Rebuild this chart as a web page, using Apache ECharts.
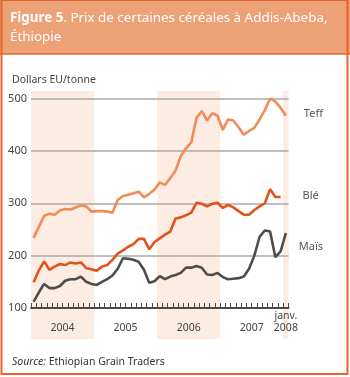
<!DOCTYPE html>
<html>
<head>
  <meta charset="UTF-8">
  <title>Prix de certaines céréales à Addis-Abeba</title>
  <script src="https://cdn.jsdelivr.net/npm/echarts@6/dist/echarts.min.js"></script>
  <style>
    html, body { margin: 0; padding: 0; background: #fff; }
  </style>
</head>
<body>
  <div id="main" style="width: 350px; height: 377px;"></div>

  <script>
    // mois de janv. 2004 à janv. 2008
    const months = [];
    for (let y = 2004; y <= 2008; ++y) {
      for (let m = 1; m <= 12; ++m) {
        if (y === 2008 && m > 1) break;
        months.push(y + '-' + (m < 10 ? '0' + m : m));
      }
    }

    const teff = [
      234, 255, 276, 280, 278, 286, 289, 288, 292, 296, 294, 284,
      285, 285, 284, 282, 306, 314, 316, 319, 322, 311, 318, 326,
      340, 335, 348, 362, 390, 405, 416, 463, 476, 458, 472, 467,
      440, 460, 458, 445, 431, 438, 444, 460, 478, 500, 494, 482,
      467
    ];
    const ble = [
      149, 172, 189, 173, 179, 184, 182, 187, 185, 187, 176, 174,
      171, 179, 182, 192, 204, 210, 217, 222, 232, 232, 212, 226,
      233, 240, 246, 271, 273, 277, 282, 301, 299, 294, 299, 301,
      291, 297, 292, 285, 278, 278, 287, 294, 300, 327, 312, 312
    ];
    const mais = [
      112, 130, 146, 138, 138, 142, 152, 155, 155, 160, 150, 146,
      144, 150, 155, 162, 175, 195, 194, 192, 188, 173, 148, 151,
      161, 155, 160, 163, 167, 177, 177, 180, 177, 164, 163, 167,
      159, 155, 156, 157, 160, 175, 200, 236, 248, 246, 197, 208,
      243
    ];

    // libellés des années (position en mois depuis janv. 2004)
    const yearLabels = { '6': '2004', '18': '2005', '30': '2006', '42': '2007', '48.5': 'janv.\n2008' };
    // bandes ombrées : 2004, 2006, janv. 2008
    const shadedMonths = [[0, 12], [24, 36], [48, 49]];

    const orange = '#e5642f';
    const labelFont = 'Noto Sans';

    const option = {
      animation: false,
      grid: [
        { left: 31, right: 61.5, top: 98.5, bottom: 69 },
        { left: 31, right: 61.5, top: 91, bottom: 38 }
      ],
      xAxis: [
        {
          type: 'category',
          gridIndex: 0,
          data: months,
          boundaryGap: true,
          z: 3,
          axisLine: { lineStyle: { color: '#4a4a4a', width: 2 } },
          axisTick: { show: true, inside: true, length: 5, interval: 0, lineStyle: { color: '#4a4a4a', width: 1 } },
          axisLabel: { show: false },
          splitLine: { show: false }
        },
        {
          type: 'value',
          gridIndex: 0,
          min: 0,
          max: 49,
          interval: 0.5,
          position: 'bottom',
          z: 3,
          axisLine: { show: false },
          axisTick: { show: false },
          splitLine: { show: false },
          axisLabel: {
            margin: 2,
            color: '#444',
            fontFamily: labelFont,
            fontSize: 10.5,
            lineHeight: 12,
            formatter: (v) => {
              const key = String(Math.round(v * 2) / 2);
              const t = yearLabels[key];
              if (!t) return '';
              return t.indexOf('\n') >= 0 ? t : '\n' + t;
            }
          }
        },
        {
          type: 'value',
          gridIndex: 1,
          min: 0,
          max: 49,
          show: false
        }
      ],
      yAxis: [
        {
          type: 'value',
          gridIndex: 0,
          min: 100,
          max: 500,
          interval: 100,
          z: 3,
          axisLine: { show: false },
          axisTick: { show: false },
          axisLabel: { margin: 4, color: '#444', fontFamily: labelFont, fontSize: 11 },
          splitLine: { lineStyle: { color: '#aaaaaa', width: 1.5 } }
        },
        {
          type: 'value',
          gridIndex: 1,
          min: 0,
          max: 1,
          show: false
        }
      ],
      series: [
        {
          name: 'bandes',
          type: 'line',
          xAxisIndex: 2,
          yAxisIndex: 1,
          z: 1,
          data: [[0, 0]],
          symbol: 'none',
          lineStyle: { opacity: 0 },
          silent: true,
          markArea: {
            silent: true,
            itemStyle: { color: '#fcece2' },
            data: shadedMonths.map(r => [{ xAxis: r[0] }, { xAxis: r[1] }])
          }
        },
        {
          name: 'Teff',
          type: 'line',
          z: 5,
          data: teff,
          symbol: 'none',
          lineStyle: { color: '#f08c5a', width: 2.6 },
          endLabel: {
            show: true, formatter: 'Teff', distance: 0, offset: [18, -2],
            color: '#555', fontFamily: labelFont, fontSize: 11
          }
        },
        {
          name: 'Blé',
          type: 'line',
          z: 5,
          data: ble,
          symbol: 'none',
          lineStyle: { color: '#e0531c', width: 2.6 },
          endLabel: {
            show: true, formatter: 'Blé', distance: 0, offset: [22, -1],
            color: '#555', fontFamily: labelFont, fontSize: 11
          }
        },
        {
          name: 'Maïs',
          type: 'line',
          z: 5,
          data: mais,
          symbol: 'none',
          lineStyle: { color: '#4d4d4d', width: 2.6 },
          endLabel: {
            show: true, formatter: 'Maïs', distance: 0, offset: [13, 14],
            color: '#555', fontFamily: labelFont, fontSize: 11
          }
        }
      ],
      graphic: [
        { type: 'rect', z: -10, shape: { x: 0, y: 0, width: 350, height: 54 }, style: { fill: '#eda177' } },
        { type: 'line', z: 10, shape: { x1: 0, y1: 54, x2: 350, y2: 54 }, style: { stroke: orange, lineWidth: 1.5 } },
        { type: 'rect', z: 10, shape: { x: 1.5, y: 0, width: 346, height: 374 }, style: { fill: null, stroke: orange, lineWidth: 2 } },
        {
          type: 'text', z: 11, left: 10, top: 9,
          style: {
            text: '{b|Figure 5}. Prix de certaines céréales à Addis-Abeba,\nÉthiopie',
            fill: '#fff', fontFamily: labelFont, fontSize: 13.4, lineHeight: 19,
            rich: { b: { fontWeight: 'bold', fill: '#fff', fontFamily: labelFont, fontSize: 13.4, lineHeight: 19 } }
          }
        },
        {
          type: 'text', z: 11, left: 12, top: 75,
          style: { text: 'Dollars EU/tonne', fill: '#444', fontFamily: labelFont, fontSize: 10.5 }
        },
        {
          type: 'text', z: 11, left: 12, top: 357,
          style: {
            text: '{i|Source:} Ethiopian Grain Traders',
            fill: '#333', fontFamily: labelFont, fontSize: 10.5,
            rich: { i: { fontStyle: 'italic', fill: '#333', fontFamily: labelFont, fontSize: 10.5 } }
          }
        }
      ]
    };

    const chart = echarts.init(document.getElementById('main'));
    chart.setOption(option);
  </script>
</body>
</html>
